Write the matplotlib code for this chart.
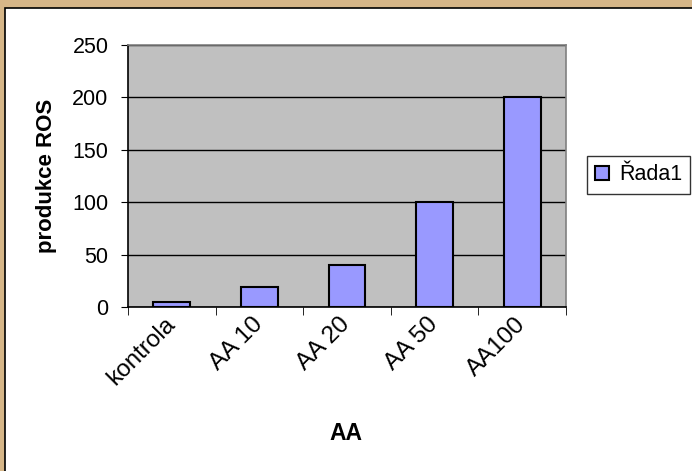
import numpy as np
import matplotlib.pyplot as plt
from matplotlib.patches import Rectangle
from matplotlib.transforms import ScaledTranslation

# data
categories = ['kontrola', 'AA 10', 'AA 20', 'AA 50', 'AA100']
values = [5, 19, 40, 100, 200]
yticks = [0, 50, 100, 150, 200, 250]

plt.rcParams['font.family'] = ['Liberation Sans', 'DejaVu Sans']

fig = plt.figure(figsize=(6.92, 4.71), dpi=100)
fig.patch.set_facecolor('#D6B688')

# white panel with black border
W, H = 692.0, 471.0
panel = Rectangle((5 / W, -0.01), 1.0, 1 - 8 / H + 0.01, transform=fig.transFigure,
                  facecolor='white', edgecolor='black', linewidth=1.2, zorder=-5)
fig.patches.append(panel)

ax = fig.add_axes([128 / W, 1 - 307 / H, (566 - 128) / W, (307 - 45) / H])
ax.set_zorder(2)
ax.set_facecolor('#C0C0C0')

x = np.arange(len(categories))
bars = ax.bar(x, values, width=0.42, color='#9999FF', edgecolor='black',
              linewidth=1.5, label='Řada1', zorder=3)

ax.set_xlim(-0.5, len(categories) - 0.5)
ax.set_ylim(0, 250)
ax.set_yticks(yticks)
ax.yaxis.grid(True, color='black', linewidth=1, zorder=1)
ax.set_axisbelow(True)

# labels at category centres, tick marks at boundaries
ax.set_xticks(x)
ax.set_xticklabels(categories, rotation=45, ha='right', va='center',
                   rotation_mode='anchor', fontsize=17.5)
shift = ScaledTranslation(-12 / 100, 0, fig.dpi_scale_trans)
for lab in ax.get_xticklabels():
    lab.set_transform(lab.get_transform() + shift)
ax.set_xticks(np.arange(-0.5, len(categories)), minor=True)
ax.tick_params(axis='x', which='major', length=0, pad=10)
ax.tick_params(axis='x', which='minor', length=6, direction='out', color='black')
ax.tick_params(axis='y', length=5, direction='out', labelsize=15.5, pad=9)

for s in ['top', 'right']:
    ax.spines[s].set_color('#808080')
    ax.spines[s].set_linewidth(1.2)
for s in ['left', 'bottom']:
    ax.spines[s].set_color('black')
    ax.spines[s].set_linewidth(1.2)

ax.set_ylabel('produkce ROS', fontsize=16, fontweight='bold', labelpad=11)
fig.text(346 / W, 1 - 434 / H, 'AA', fontsize=16.5, fontweight='bold',
         ha='center', va='center')

leg = fig.legend(handles=[bars], labels=['Řada1'], loc='center left',
                 bbox_to_anchor=(587 / W, 1 - 175 / H), fontsize=15.5,
                 frameon=True, fancybox=False, edgecolor='black',
                 handlelength=0.65, handleheight=0.65, handletextpad=0.45,
                 borderpad=0.38, borderaxespad=0)
leg.get_frame().set_linewidth(1)

fig.savefig('out.png', dpi=100, facecolor=fig.get_facecolor())
